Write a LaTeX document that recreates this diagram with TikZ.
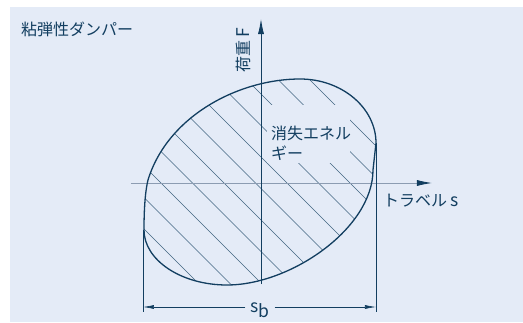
\documentclass[tikz,border=0pt]{standalone}
\usepackage{fontspec}
\newfontfamily\cjk{Noto Sans CJK JP}
\usetikzlibrary{arrows.meta,positioning}
\definecolor{navy}{HTML}{123E60}
\definecolor{bgblue}{HTML}{E4EBF7}
\definecolor{axisgray}{HTML}{8C9CB2}
\tikzset{
  >=Latex,
  loopline/.style={draw=navy, line width=1.3pt},
  axisline/.style={-{Latex[length=15pt,width=6pt,color=navy]}, line width=0.8pt},
  hatch/.style={navy!80, line width=0.45pt},
  dimline/.style={draw=navy, line width=0.6pt},
  dimarrow/.style={dimline, -{Latex[length=11pt,width=4pt]}},
  lbl/.style={font=\cjk\fontsize{16}{20}\selectfont, text=navy, inner sep=0pt}
}
\newcommand{\latin}[1]{{\fontsize{17.5}{20}\selectfont #1}}
\newcommand{\hysteresisloop}{(115,40) .. controls (115,75) and (81,104) .. (39,104)
  .. controls (-21,104) and (-93,68) .. (-113,3)
  .. controls (-115,-5) and (-117,-20) .. (-117,-47)
  .. controls (-117,-77) and (-80,-102) .. (-34,-102)
  .. controls (30,-102) and (112,-45) .. (112,13) -- cycle}

\begin{document}
\begin{tikzpicture}[x=1pt, y=1pt]
    % Background
    \useasboundingbox (-261,-139) rectangle (262,183);
    \fill[bgblue] (-251,-139) rectangle (262,176);

    % Hatching inside the loop
    \begin{scope}
        \clip \hysteresisloop;
        \foreach \k in {0,...,10}{
            \pgfmathsetmacro{\d}{-163+31.5*\k}
            \draw[hatch] ({\d+160},-160) -- ({\d-160},160);
        }
    \end{scope}
    \fill[bgblue] (6,20) rectangle (89,78);

    % Axes
    \coordinate (xstart) at (-130,0);
    \coordinate (xend) at (171,0);
    \coordinate (ystart) at (0,-101);
    \coordinate (yend) at (0,164);
    \draw[axisline, axisgray] (xstart) -- (xend);
    \draw[axisline, navy] (ystart) -- (yend);

    % Loop
    \draw[loopline] \hysteresisloop;

    % Stroke s_b
    \coordinate (extl) at (-118,-47);
    \coordinate (extr) at (115,40);
    \coordinate (diml) at (-118,-124);
    \coordinate (dimr) at (115,-124);
    \draw[dimline] (extl) -- ++(0,-82);
    \draw[dimline] (extr) -- ++(0,-169);
    \node[lbl, anchor=base, inner xsep=5pt] (sb) at (-1,-129) {\latin{s\raisebox{-5pt}{b}}};
    \draw[dimarrow] (sb.west |- diml) -- (diml);
    \draw[dimarrow] (sb.east |- dimr) -- (dimr);

    % Labels
    \node[lbl, anchor=west] (title) at (-240,154) {粘弾性ダンパー};
    \node[lbl, rotate=90] (force) at (-18,133) {荷重 \latin{F}};
    \node[lbl, anchor=west, align=left] (energy) at (10,40) {消失エネル\\ギー};
    \node[lbl, anchor=west] (travel) at (122,-18) {トラベル \latin{s}};
\end{tikzpicture}
\end{document}
